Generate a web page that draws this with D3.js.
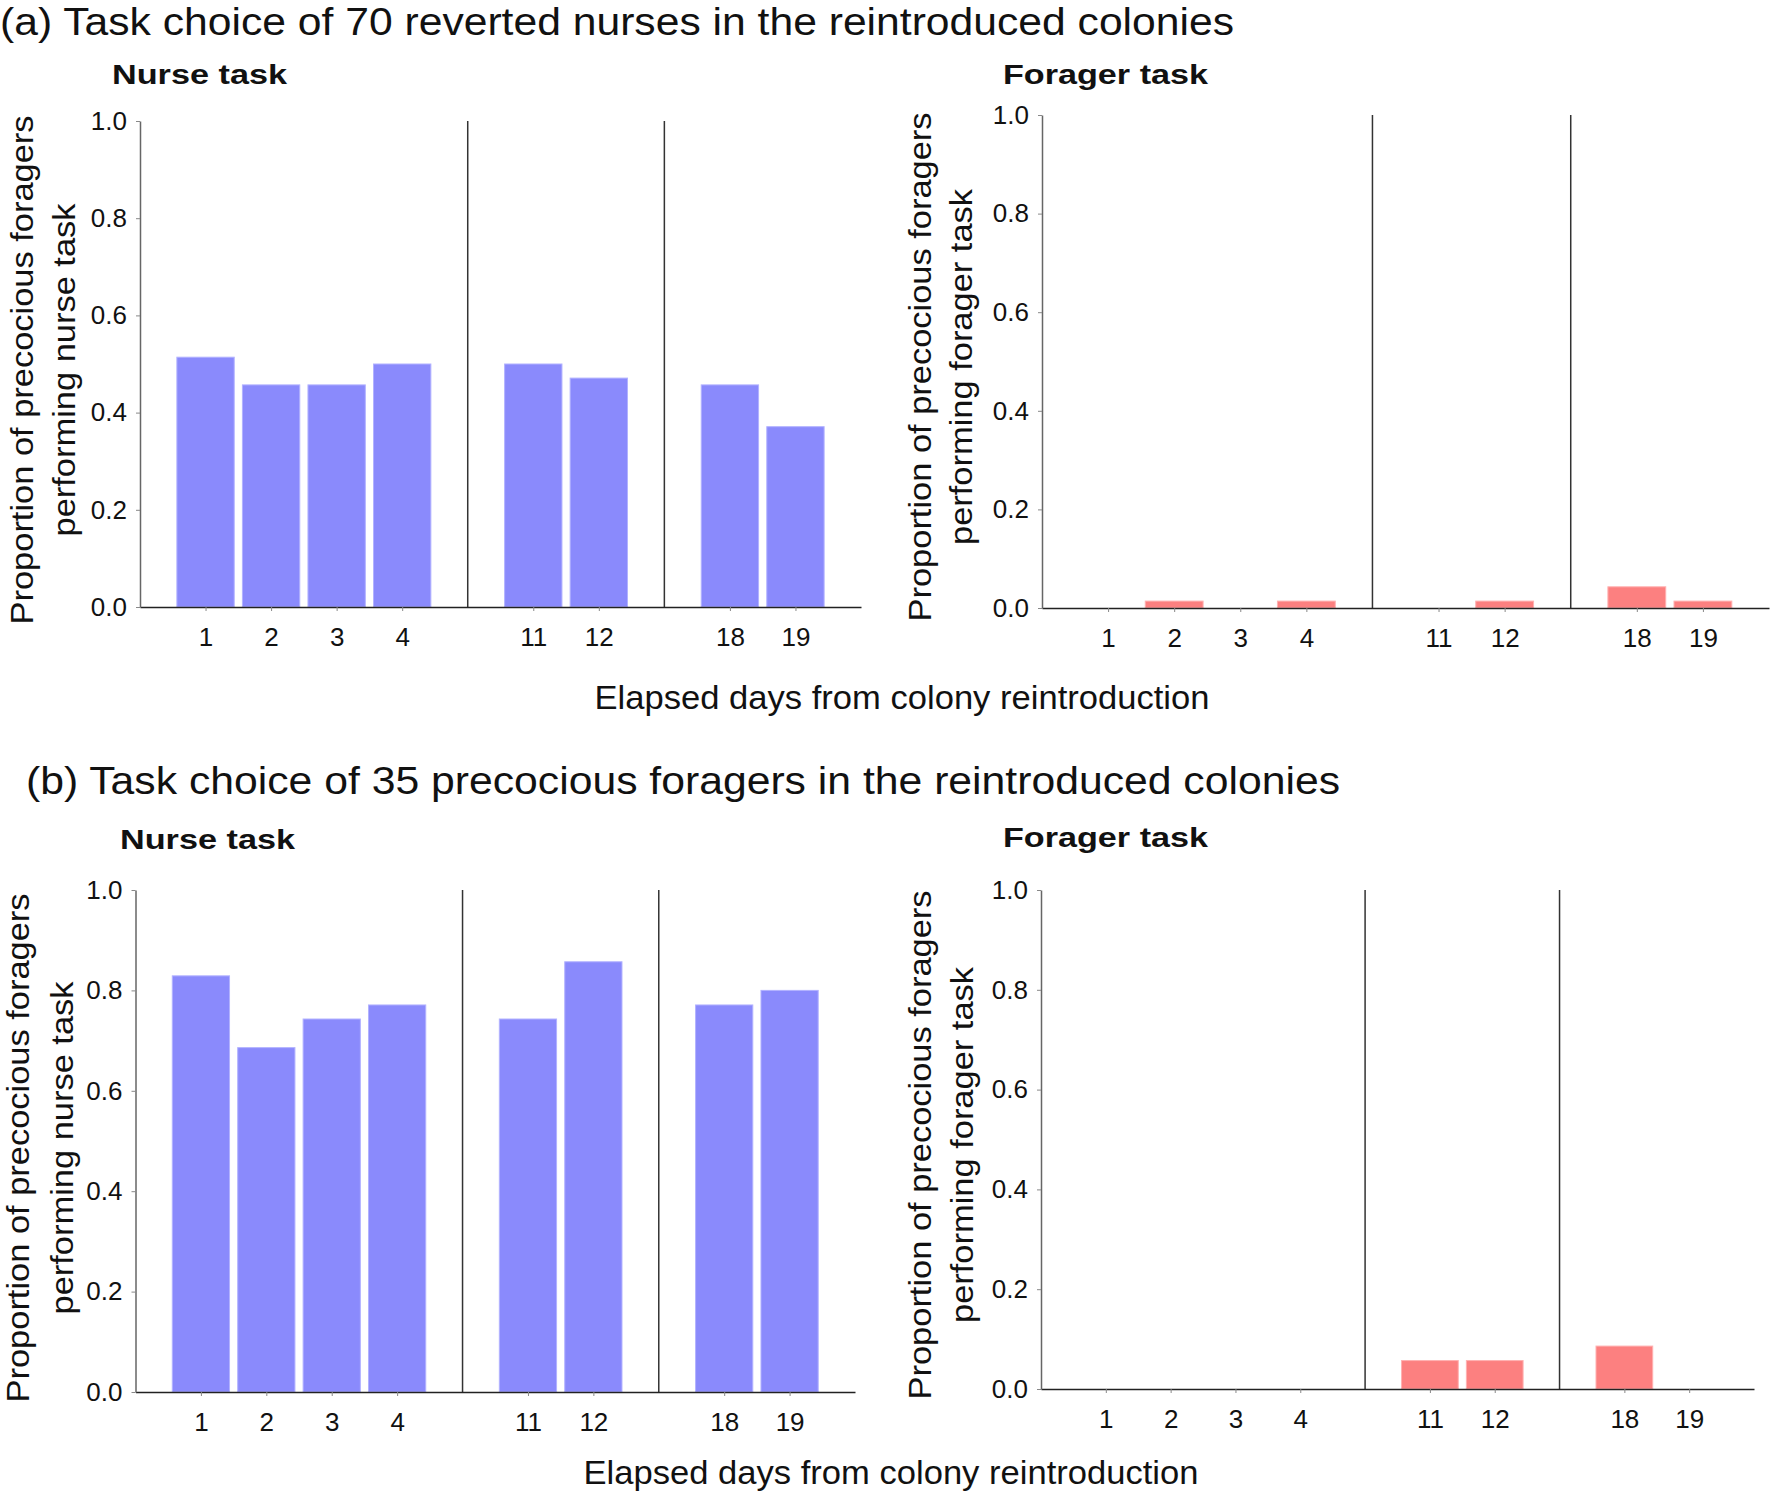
<!DOCTYPE html>
<html>
<head>
<meta charset="utf-8">
<script src="https://cdn.jsdelivr.net/npm/d3@7"></script>
<style>
  body { margin: 0; background: #fff; }
  svg { display: block; font-family: 'Liberation Sans', Arial, sans-serif; }
</style>
</head>
<body>
<div id="figure"></div>
<script>
const dayGroups = [['1', '2', '3', '4'], ['11', '12'], ['18', '19']]
const days = dayGroups.flat()
const yTicks = [0, 0.2, 0.4, 0.6, 0.8, 1.0]

// proportions (70 reverted nurses / 35 precocious foragers)
const revertedNurseTask = [0.514, 0.457, 0.457, 0.5, 0.5, 0.471, 0.457, 0.371]
const revertedForagerTask = [0, 0.014, 0, 0.014, 0, 0.014, 0.043, 0.014]
const precociousNurseTask = [0.829, 0.686, 0.743, 0.771, 0.743, 0.857, 0.771, 0.8]
const precociousForagerTask = [0, 0, 0, 0, 0.057, 0.057, 0.086, 0]

const rowTitles = [
  '(a) Task choice of 70 reverted nurses in the reintroduced colonies',
  '(b) Task choice of 35 precocious foragers in the reintroduced colonies'
]
const taskTitles = { nurse: 'Nurse task', forager: 'Forager task' }
const yLabelLines = {
  nurse: ['Proportion of precocious foragers', 'performing nurse task'],
  forager: ['Proportion of precocious foragers', 'performing forager task']
}
const xTitle = 'Elapsed days from colony reintroduction'

const colors = {
  nurse: { fill: '#8a8afc', edge: '#b2b2ff' },
  forager: { fill: '#fc8080', edge: '#ffb0b0' }
}

const figure = { width: 1770, height: 1493 }

const rows = [
  {
    title: rowTitles[0], titleX: 0, titleY: 35, titleLength: 1234,
    xTitleX: 902, xTitleY: 709,
    panels: [
      { task: 'nurse', values: revertedNurseTask, left: 140, right: 861, top: 121, bottom: 607, subX: 112, subY: 84, labelX: [33, 75], labelY: 370 },
      { task: 'forager', values: revertedForagerTask, left: 1042, right: 1769, top: 115, bottom: 608, subX: 1003, subY: 84, labelX: [931, 972], labelY: 367 }
    ]
  },
  {
    title: rowTitles[1], titleX: 26, titleY: 794, titleLength: 1314,
    xTitleX: 891, xTitleY: 1484,
    panels: [
      { task: 'nurse', values: precociousNurseTask, left: 135.5, right: 855, top: 890, bottom: 1392, subX: 120, subY: 849, labelX: [29, 73], labelY: 1148 },
      { task: 'forager', values: precociousForagerTask, left: 1041, right: 1754, top: 890, bottom: 1389, subX: 1003, subY: 847, labelX: [931, 973], labelY: 1145 }
    ]
  }
]

const textLengths = {
  nurse: { sub: 175, lines: [509, 333] },
  forager: { sub: 205, lines: [509, 356] },
  xTitle: 615
}

function slotDomain (groups) {
  // a blank slot before, between and after the day groups
  const slots = ['start']
  groups.forEach((group, i) => {
    if (i > 0) slots.push('gap' + i)
    slots.push(...group)
  })
  slots.push('end')
  return slots
}

function fit (text, length) {
  text.attr('textLength', length).attr('lengthAdjust', 'spacingAndGlyphs')
}

const svg = d3.select('#figure')
  .append('svg')
  .attr('width', figure.width)
  .attr('height', figure.height)

rows.forEach(row => {
  svg.append('text')
    .attr('x', row.titleX)
    .attr('y', row.titleY)
    .attr('font-size', 38)
    .attr('fill', '#111')
    .text(row.title)
    .call(fit, row.titleLength)

  svg.append('text')
    .attr('x', row.xTitleX)
    .attr('y', row.xTitleY)
    .attr('text-anchor', 'middle')
    .attr('font-size', 34)
    .attr('fill', '#111')
    .text(xTitle)
    .call(fit, textLengths.xTitle)

  row.panels.forEach(panel => drawPanel(panel))
})

function drawPanel (panel) {
  const x = d3.scalePoint()
    .domain(slotDomain(dayGroups))
    .range([panel.left, panel.right])

  const y = d3.scaleLinear()
    .domain([0, 1])
    .range([panel.bottom, panel.top])

  const g = svg.append('g')

  // subtitle
  g.append('text')
    .attr('x', panel.subX)
    .attr('y', panel.subY)
    .attr('font-size', 28)
    .attr('font-weight', 'bold')
    .attr('fill', '#111')
    .text(taskTitles[panel.task])
    .call(fit, textLengths[panel.task].sub)

  // two-line y label
  yLabelLines[panel.task].forEach((line, i) => {
    g.append('text')
      .attr('transform', `translate(${panel.labelX[i]}, ${panel.labelY}) rotate(-90)`)
      .attr('text-anchor', 'middle')
      .attr('font-size', 32)
      .attr('fill', '#111')
      .text(line)
      .call(fit, textLengths[panel.task].lines[i])
  })

  // bars
  const bw = x.step() * 0.875
  g.append('g')
    .selectAll('rect')
    .data(days.map((d, i) => ({ day: d, value: panel.values[i] })).filter(d => d.value > 0))
    .join('rect')
    .attr('x', d => x(d.day) - bw / 2)
    .attr('width', bw)
    .attr('y', d => y(d.value))
    .attr('height', d => y(0) - y(d.value))
    .attr('fill', colors[panel.task].fill)
    .attr('stroke', colors[panel.task].edge)
    .attr('stroke-width', 1)

  // separators between the day groups
  g.append('g')
    .selectAll('line')
    .data(x.domain().filter(s => s.startsWith('gap')))
    .join('line')
    .attr('x1', d => x(d))
    .attr('x2', d => x(d))
    .attr('y1', y(0))
    .attr('y2', y(1))
    .attr('stroke', '#333')
    .attr('stroke-width', 1.5)

  const xAxis = g.append('g')
    .attr('transform', `translate(0, ${y(0)})`)
    .call(d3.axisBottom(x).tickValues(days).tickSize(4).tickSizeOuter(0).tickPadding(17))
  xAxis.select('.domain').attr('stroke', '#222').attr('stroke-width', 1.6)

  const yAxis = g.append('g')
    .attr('transform', `translate(${panel.left}, 0)`)
    .call(d3.axisLeft(y).tickValues(yTicks).tickFormat(d3.format('.1f')).tickSize(4).tickSizeOuter(0).tickPadding(9))
  yAxis.select('.domain').attr('stroke', '#666').attr('stroke-width', 1.5)

  g.selectAll('.tick line').attr('stroke', '#888')
  g.selectAll('.tick text')
    .attr('font-size', 26)
    .attr('font-family', "'Liberation Sans', Arial, sans-serif")
    .attr('fill', '#111')
}
</script>
</body>
</html>
